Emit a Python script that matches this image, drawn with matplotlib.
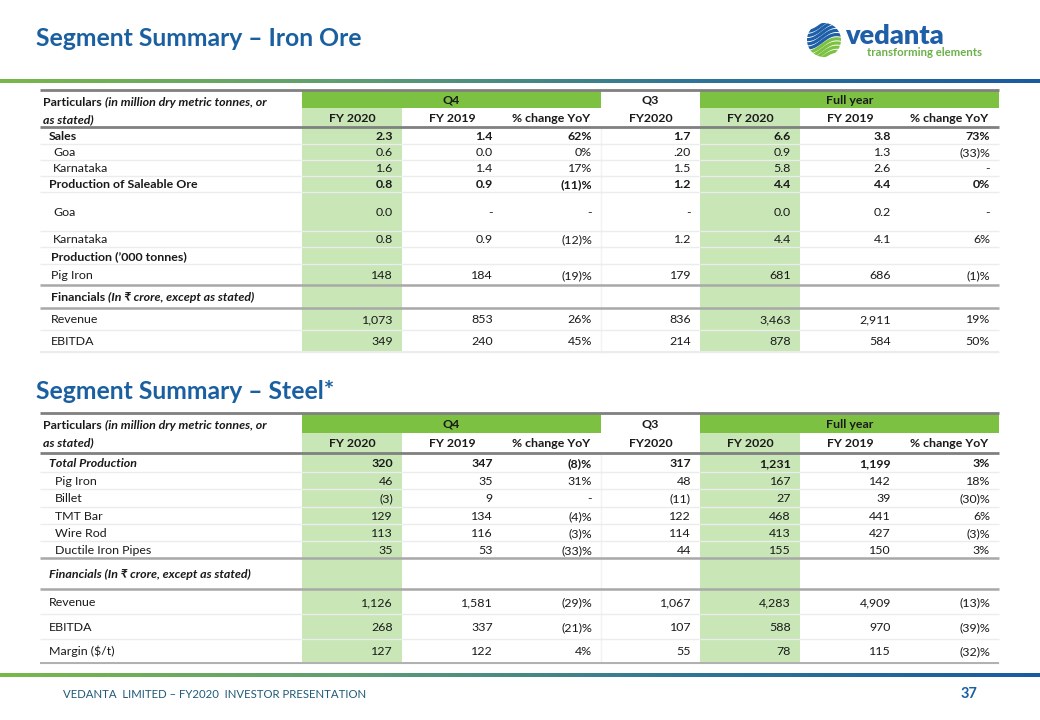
import numpy as np
import matplotlib
matplotlib.use("Agg")
import matplotlib.pyplot as plt
from matplotlib.colors import LinearSegmentedColormap
from matplotlib.patches import Rectangle, Circle

plt.rcParams['font.family'] = ['Lato', 'DejaVu Sans']

# ---------------- data ----------------
sub_headers = ["FY 2020", "FY 2019", "% change YoY", "FY2020", "FY 2020", "FY 2019", "% change YoY"]
group_headers = ["Q4", "Q3", "Full year"]

iron_labels = ["Sales", "Goa", "Karnataka", "Production of Saleable Ore", "Goa", "Karnataka",
               "Production (’000 tonnes)", "Pig Iron", "Financials", "Revenue", "EBITDA"]
iron_values = [
    ["2.3", "1.4", "62%", "1.7", "6.6", "3.8", "73%"],
    ["0.6", "0.0", "0%", ".20", "0.9", "1.3", "(33)%"],
    ["1.6", "1.4", "17%", "1.5", "5.8", "2.6", "-"],
    ["0.8", "0.9", "(11)%", "1.2", "4.4", "4.4", "0%"],
    ["0.0", "-", "-", "-", "0.0", "0.2", "-"],
    ["0.8", "0.9", "(12)%", "1.2", "4.4", "4.1", "6%"],
    ["", "", "", "", "", "", ""],
    ["148", "184", "(19)%", "179", "681", "686", "(1)%"],
    ["", "", "", "", "", "", ""],
    ["1,073", "853", "26%", "836", "3,463", "2,911", "19%"],
    ["349", "240", "45%", "214", "878", "584", "50%"],
]

steel_labels = ["Total Production", "Pig Iron", "Billet", "TMT Bar", "Wire Rod", "Ductile Iron Pipes",
                "Financials (In ₹ crore, except as stated)", "Revenue", "EBITDA", "Margin ($/t)"]
steel_values = [
    ["320", "347", "(8)%", "317", "1,231", "1,199", "3%"],
    ["46", "35", "31%", "48", "167", "142", "18%"],
    ["(3)", "9", "-", "(11)", "27", "39", "(30)%"],
    ["129", "134", "(4)%", "122", "468", "441", "6%"],
    ["113", "116", "(3)%", "114", "413", "427", "(3)%"],
    ["35", "53", "(33)%", "44", "155", "150", "3%"],
    ["", "", "", "", "", "", ""],
    ["1,126", "1,581", "(29)%", "1,067", "4,283", "4,909", "(13)%"],
    ["268", "337", "(21)%", "107", "588", "970", "(39)%"],
    ["127", "122", "4%", "55", "78", "115", "(32)%"],
]

# ---------------- layout / style ----------------
BLUE = '#1a5fa0'
GREEN = '#7cc142'
LIGHT = '#c9e6b7'
TXT = '#1a1a1a'
FS = 8.9

col_edges = [40, 302, 402, 502, 601, 700, 800, 900, 999]
shaded_cols = [0, 4]
group_spans = [(1, 4, GREEN), (4, 5, 'white'), (5, 8, GREEN)]

iron_rows = [127, 144, 160, 176, 192, 231, 247, 264, 285, 308, 330, 352]
iron_style = [  # (label weight, label style, label x, value weight)
    ('bold', 'normal', 49, 'bold'), ('normal', 'normal', 53, 'normal'), ('normal', 'normal', 53, 'normal'),
    ('bold', 'normal', 49, 'bold'), ('normal', 'normal', 53, 'normal'), ('normal', 'normal', 53, 'normal'),
    ('bold', 'normal', 51, 'normal'), ('normal', 'normal', 51, 'normal'), ('mixed', 'normal', 51, 'normal'),
    ('normal', 'normal', 51, 'normal'), ('normal', 'normal', 51, 'normal')]
iron_heavy = [285, 308]

steel_rows = [453, 472, 489, 507, 524, 541, 558, 589, 614, 639, 663]
steel_style = [
    ('bold', 'italic', 49, 'bold'), ('normal', 'normal', 55, 'normal'), ('normal', 'normal', 55, 'normal'),
    ('normal', 'normal', 55, 'normal'), ('normal', 'normal', 55, 'normal'), ('normal', 'normal', 55, 'normal'),
    ('bold', 'italic', 49, 'normal'), ('normal', 'normal', 49, 'normal'), ('normal', 'normal', 49, 'normal'),
    ('normal', 'normal', 49, 'normal')]
steel_heavy = [558, 589]

fig = plt.figure(figsize=(10.4, 7.2), dpi=100)
ax = fig.add_axes([0, 0, 1, 1])
ax.set_xlim(0, 1040)
ax.set_ylim(720, 0)
ax.axis('off')
renderer = fig.canvas.get_renderer()


def txt(x, y, s, **kw):
    # y is the visual middle of the capitals; text is placed on its baseline
    kw.setdefault('color', TXT)
    kw.setdefault('fontsize', FS)
    if 'va' not in kw:
        y = y + 0.36 * kw['fontsize'] * 100 / 72
        kw['va'] = 'baseline'
    return ax.text(x, y, s, parse_math=False, **kw)


def txt_after(t, y, s, **kw):
    # place a second run of text right after an existing one
    bb = t.get_window_extent(renderer)
    x = ax.transData.inverted().transform((bb.x1, bb.y0))[0]
    return txt(x, y, s, **kw)


def hline(y, x0, x1, color, lw):
    ax.plot([x0, x1], [y, y], color=color, lw=lw, solid_capstyle='butt')


def table(top, mid, rows, labels, values, styles, heavy):
    x0, x1 = col_edges[0], col_edges[-1]
    bottom = rows[-1]
    # shaded FY2020 columns
    for c in shaded_cols:
        ax.add_patch(Rectangle((col_edges[c + 1], mid), col_edges[c + 2] - col_edges[c + 1],
                               bottom - mid, color=LIGHT, lw=0))
    # group header bands
    for (a, b, col), name in zip(group_spans, group_headers):
        ax.add_patch(Rectangle((col_edges[a], top + 1), col_edges[b] - col_edges[a], mid - top - 1,
                               color=col, lw=0))
        txt((col_edges[a] + col_edges[b]) / 2, (top + mid) / 2 + 0.5, name, ha='center', weight='bold')
    for i, name in enumerate(sub_headers):
        txt((col_edges[i + 1] + col_edges[i + 2]) / 2, (mid + rows[0]) / 2, name, ha='center', weight='bold')
    # particulars header
    y1 = top + 12
    t = txt(43, y1, "Particulars ", weight='bold')
    txt_after(t, y1, "(in million dry metric tonnes, or", weight='bold', style='italic')
    txt(43, y1 + 16.5, "as stated)", weight='bold', style='italic')
    # faint vertical divider before the Q3 column
    ax.plot([col_edges[4], col_edges[4]], [rows[0], bottom], color='#f2f2f2', lw=1.0)
    # row lines
    for y in rows[1:]:
        if y in heavy:
            hline(y, x0, x1, '#a8a8a8', 1.8)
        else:
            hline(y, x0, x1, '#ececec', 1.0)
    hline(bottom, x0, x1, '#b0b0b0' if bottom > 600 else '#ececec', 1.4)
    hline(top, x0, x1, '#808080', 2.0)
    hline(rows[0], x0, x1, '#808080', 2.0)
    # body
    for r, (lab, vals, st) in enumerate(zip(labels, values, styles)):
        yc = (rows[r] + rows[r + 1]) / 2
        lw_, ls_, lx, vw = st
        if lw_ == 'mixed':
            t = txt(lx, yc, lab + " ", weight='bold')
            txt_after(t, yc, "(In ₹ crore, except as stated)", weight='bold', style='italic')
        else:
            txt(lx, yc, lab, weight=lw_, style=ls_)
        for c, v in enumerate(vals):
            txt(col_edges[c + 2] - 9, yc, v, ha='right', weight=vw)


# titles
txt(36, 37, "Segment Summary – Iron Ore", fontsize=17.8, weight='bold', color=BLUE)
txt(36, 390, "Segment Summary – Steel*", fontsize=17.8, weight='bold', color=BLUE)

# gradient rules
cmap = LinearSegmentedColormap.from_list('rule', ['#78b84a', '#5f9e72', '#2f7596', '#1a5ba0'])
grad = np.linspace(0, 1, 512).reshape(1, -1)
ax.imshow(grad, cmap=cmap, extent=(0, 1040, 83, 79.5), aspect='auto', zorder=1)
ax.imshow(grad, cmap=cmap, extent=(0, 1040, 677.5, 674), aspect='auto', zorder=1)
ax.set_xlim(0, 1040)
ax.set_ylim(720, 0)

# logo
clip = Circle((824, 40), 17, transform=ax.transData, fc='none', ec='none')
ax.add_patch(clip)
xs = np.linspace(800, 850, 60)
for k, off in enumerate(np.arange(-16, 18, 4.2)):
    col = '#1f5fa8' if k < 5 else '#7cc142'
    ln, = ax.plot(xs, 40 + off + 3.5 * np.sin((xs - 800) / 7.0) - (xs - 824) * 0.25, color=col, lw=2.3)
    ln.set_clip_path(clip)
txt(845, 44, "vedanta", fontsize=19.5, weight='heavy', color='#1f5fa8', va='baseline')
txt(867, 56, "transforming elements", fontsize=8.2, weight='bold', color='#6cb04a', va='baseline')

# tables
table(90, 108, iron_rows, iron_labels, iron_values, iron_style, iron_heavy)
table(413, 433, steel_rows, steel_labels, steel_values, steel_style, steel_heavy)

# footer
txt(63, 694, "VEDANTA  LIMITED – FY2020  INVESTOR PRESENTATION", fontsize=8.2,
    color='#1f5a78')
txt(969, 693, "37", fontsize=10.5, weight='bold', color=BLUE, ha='center')

fig.savefig("out.png", dpi=100)
